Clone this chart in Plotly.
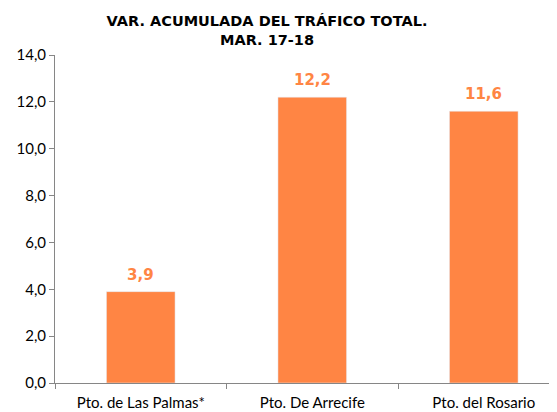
import plotly.graph_objects as go

categories = ["Pto. de Las Palmas*", "Pto. De Arrecife", "Pto. del Rosario"]
values = [3.9, 12.2, 11.6]
y_ticks = [0, 2, 4, 6, 8, 10, 12, 14]

bar_color = "#FF8544"
axis_color = "#868686"

fig = go.Figure()
fig.add_trace(go.Bar(
    x=categories, y=values, marker_color=bar_color, width=0.4,
    hoverinfo="skip",
))

for c, v in zip(categories, values):
    fig.add_annotation(
        x=c, y=v, text=f"{v:.1f}".replace(".", ","), showarrow=False,
        yanchor="bottom", yshift=6,
        font=dict(family="DejaVu Sans", size=15, color=bar_color, weight="bold"),
    )

# page body has an 8px default margin, so the figure is 8px smaller each way
fig.update_layout(
    width=549, height=404,
    margin=dict(l=47, r=0, t=47, b=29),
    paper_bgcolor="white", plot_bgcolor="white",
    separators=",.",
    showlegend=False,
    title=dict(
        text="VAR. ACUMULADA DEL TRÁFICO TOTAL.<br>MAR. 17-18",
        x=259 / 549, xanchor="center", y=1 - 18 / 404, yanchor="top",
        font=dict(family="DejaVu Sans", size=14.5, color="black", weight="bold"),
    ),
    font=dict(family="Lato", size=15, color="black"),
)
fig.update_xaxes(
    type="category", range=[-0.5, 2.427], automargin=False,
    showline=True, linecolor=axis_color, linewidth=1,
    ticks="outside", tickson="boundaries", ticklen=5, tickcolor=axis_color,
    ticklabelstandoff=6,
    showgrid=False, zeroline=False,
)
fig.update_yaxes(
    range=[0, 14], tickvals=y_ticks, tickformat=".1f", automargin=False,
    showline=True, linecolor=axis_color, linewidth=1,
    ticks="outside", ticklen=5, tickcolor=axis_color,
    showgrid=False, zeroline=False,
)

fig.write_html("out.html")
